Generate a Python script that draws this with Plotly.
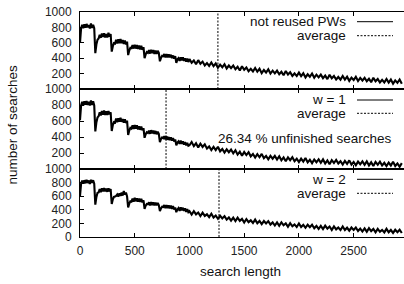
import plotly.graph_objects as go
from plotly.subplots import make_subplots

# ---------------- data ----------------
search_length = list(range(0, 1000, 10)) + list(range(1000, 2960, 20))

not_reused = [
    600, 790, 835, 790, 840, 795, 845, 800, 830, 785, 850, 795, 835, 790,
    465, 580, 640, 655, 705, 665, 720, 675, 725, 670, 715, 670, 730, 680, 715,
    485, 555, 595, 590, 640, 590, 645, 595, 650, 595, 635, 585, 630, 580, 615,
    440, 500, 535, 530, 570, 525, 575, 525, 570, 520, 565, 515, 560, 510, 545,
    400, 450, 480, 470, 505, 460, 510, 465, 505, 455, 500, 455, 495, 470,
    360, 405, 430, 425, 455, 410, 455, 410, 450, 410, 445, 400, 435, 395, 425,
    340, 385, 400, 365, 410, 370, 410, 365, 400, 355, 395, 350,
    389, 340, 370, 322, 375, 328, 356, 306, 337, 300,
    344, 296, 332, 276, 316, 282, 322, 267, 305, 270,
    304, 256, 288, 241, 296, 250, 279, 231, 262, 227,
    272, 225, 262, 206, 247, 214, 255, 200, 238, 203,
    238, 191, 223, 178, 233, 188, 217, 170, 202, 168,
    213, 167, 204, 150, 191, 159, 201, 146, 186, 151,
    187, 141, 174, 128, 184, 140, 170, 123, 156, 122,
    168, 122, 160, 106, 148, 116, 158, 104, 144, 110,
    146, 100, 133, 89, 145, 101, 131, 84, 118, 84,
    130, 84, 123, 69, 112, 80, 123, 69,
]

w1 = [
    610, 795, 840, 795, 845, 805, 850, 800, 840, 795, 855, 800, 845, 795,
    470, 585, 645, 660, 710, 670, 725, 680, 730, 675, 720, 675, 725, 685, 710,
    475, 550, 585, 580, 630, 585, 635, 590, 640, 590, 625, 580, 620, 575, 605,
    425, 480, 515, 505, 545, 500, 550, 505, 545, 495, 535, 490, 530, 485, 510,
    390, 435, 460, 450, 480, 440, 485, 445, 480, 440, 475, 435, 465, 440,
    335, 375, 395, 385, 410, 370, 410, 365, 400, 360, 395, 355, 385, 345, 370,
    295, 330, 345, 315, 355, 315, 345, 305, 335, 295, 325, 290,
    297, 338, 286, 322, 270, 317, 276, 309, 255, 282,
    236, 277, 236, 278, 221, 250, 205, 246, 210, 243,
    196, 235, 180, 216, 165, 212, 174, 210, 158, 188,
    144, 186, 147, 189, 134, 164, 121, 164, 129, 164,
    119, 160, 108, 145, 97, 146, 110, 147, 97, 128,
    86, 130, 92, 137, 83, 115, 73, 118, 84, 121,
    77, 120, 68, 107, 59, 110, 75, 113, 68, 97,
    56, 101, 63, 108, 55, 88, 47, 92, 59, 96,
    53, 96, 45, 84, 37, 88, 53, 92, 44, 77,
    36, 81, 44, 90, 37, 70, 29, 74,
]

w2 = [
    600, 785, 830, 785, 835, 790, 840, 795, 830, 780, 840, 795, 835, 785,
    475, 590, 650, 655, 705, 660, 715, 670, 720, 670, 710, 665, 715, 670, 705,
    485, 555, 590, 595, 605, 625, 595, 640, 605, 655, 610, 675, 625, 655, 595,
    435, 490, 525, 520, 565, 520, 575, 525, 570, 520, 565, 515, 560, 510, 540,
    415, 460, 485, 480, 510, 465, 515, 470, 510, 465, 505, 465, 500, 470,
    380, 420, 445, 440, 470, 425, 470, 425, 465, 420, 460, 415, 455, 405, 435,
    365, 405, 425, 385, 435, 390, 430, 385, 420, 370, 410, 365,
    380, 330, 379, 333, 360, 308, 357, 310, 334, 293,
    342, 286, 316, 268, 312, 274, 307, 255, 287, 240,
    284, 234, 284, 238, 266, 214, 264, 219, 245, 206,
    256, 203, 236, 190, 235, 198, 233, 182, 214, 169,
    214, 165, 216, 172, 201, 150, 202, 157, 185, 146,
    198, 146, 179, 135, 180, 144, 180, 129, 163, 118,
    164, 116, 168, 124, 154, 104, 156, 112, 140, 102,
    154, 102, 136, 93, 139, 103, 139, 89, 124, 80,
    126, 78, 131, 87, 118, 68, 120, 77, 105, 68,
    120, 69, 103, 60, 106, 71, 107, 59,
]

series_names = ["not reused PWs", "w = 1", "w = 2"]
averages = [1260, 786, 1270]
unfinished_text = "26.34 % unfinished searches"
x_ticks = [0, 500, 1000, 1500, 2000, 2500]
y_ticks_upper = [200, 400, 600, 800, 1000]
y_ticks_lower = [0, 200, 400, 600, 800, 1000]

# ---------------- figure ----------------
W, H = 404, 284
L, R, T, B = 80, 0, 12, 47
PW, PH = W - L - R, H - T - B

def px(x):
    return (x - L) / PW

def py(y):
    return (H - B - y) / PH

FONT = "Liberation Sans, Arial, Helvetica, sans-serif"
DASH = "2px,1.5px"

fig = make_subplots(rows=3, cols=1, shared_xaxes=True,
                    vertical_spacing=0, row_heights=[77, 80, 68])

for i, ys in enumerate([not_reused, w1, w2]):
    fig.add_trace(go.Scatter(x=search_length, y=ys, mode="lines",
                             line=dict(color="black", width=2.1, simplify=False),
                             name=series_names[i], showlegend=False,
                             hoverinfo="skip"),
                  row=i + 1, col=1)
    fig.add_shape(type="line", x0=averages[i], x1=averages[i],
                  y0=0, y1=1, xref=f"x{'' if i == 0 else i + 1}",
                  yref=f"y{'' if i == 0 else i + 1} domain",
                  line=dict(color="black", width=1, dash=DASH))

for i in range(1, 4):
    fig.update_xaxes(range=[0, 2960], tickvals=x_ticks, ticks="inside",
                     ticklen=4, tickcolor="black", showline=True,
                     linecolor="black", linewidth=1, mirror="ticks",
                     showgrid=False, zeroline=False,
                     showticklabels=(i == 3), ticklabelstandoff=3,
                     tickfont=dict(family=FONT, size=12, color="#222"),
                     row=i, col=1)
    fig.update_yaxes(range=[0, 1000],
                     tickvals=(y_ticks_lower if i == 3 else y_ticks_upper),
                     ticks="inside", ticklen=4, tickcolor="black",
                     showline=True, linecolor="black", linewidth=1,
                     showgrid=False, zeroline=False,
                     ticklabelstandoff=5,
                     tickfont=dict(family=FONT, size=12, color="#222"),
                     row=i, col=1)

anns = []
shapes = []
legend_rows = [(21.7, 35.7), (100, 113.3), (179.3, 193.3)]
for i, (ya, yb) in enumerate(legend_rows):
    anns.append(dict(text=series_names[i], x=px(348), y=py(ya), xref="paper",
                     yref="paper", xanchor="right", yanchor="middle",
                     showarrow=False, font=dict(family=FONT, size=13.5, color="#111")))
    anns.append(dict(text="average", x=px(348), y=py(yb), xref="paper",
                     yref="paper", xanchor="right", yanchor="middle",
                     showarrow=False, font=dict(family=FONT, size=13.5, color="#111")))
    shapes.append(dict(type="line", xref="paper", yref="paper",
                       x0=px(357), x1=px(393), y0=py(ya), y1=py(ya),
                       line=dict(color="black", width=1)))
    shapes.append(dict(type="line", xref="paper", yref="paper",
                       x0=px(357), x1=px(393), y0=py(yb), y1=py(yb),
                       line=dict(color="black", width=1, dash=DASH)))

anns.append(dict(text=unfinished_text, x=px(305), y=py(138), xref="paper",
                 yref="paper", xanchor="center", yanchor="middle",
                 showarrow=False, font=dict(family=FONT, size=13.5, color="#111")))
anns.append(dict(text="number of searches", x=px(12), y=py(124.5), xref="paper",
                 yref="paper", xanchor="center", yanchor="middle", textangle=-90,
                 showarrow=False, font=dict(family=FONT, size=13.5, color="#111")))
anns.append(dict(text="search length", x=px(240), y=py(271.5), xref="paper",
                 yref="paper", xanchor="center", yanchor="middle",
                 showarrow=False, font=dict(family=FONT, size=13.5, color="#111")))

fig.update_layout(width=W, height=H,
                  margin=dict(l=L, r=R, t=T, b=B, autoexpand=False),
                  paper_bgcolor="white", plot_bgcolor="white", hovermode=False,
                  showlegend=False, annotations=list(fig.layout.annotations) + anns,
                  shapes=list(fig.layout.shapes) + shapes)

fig.write_html("out.html", config={"displayModeBar": False},
               post_script="document.body.style.margin='0';document.body.style.overflow='hidden';")
